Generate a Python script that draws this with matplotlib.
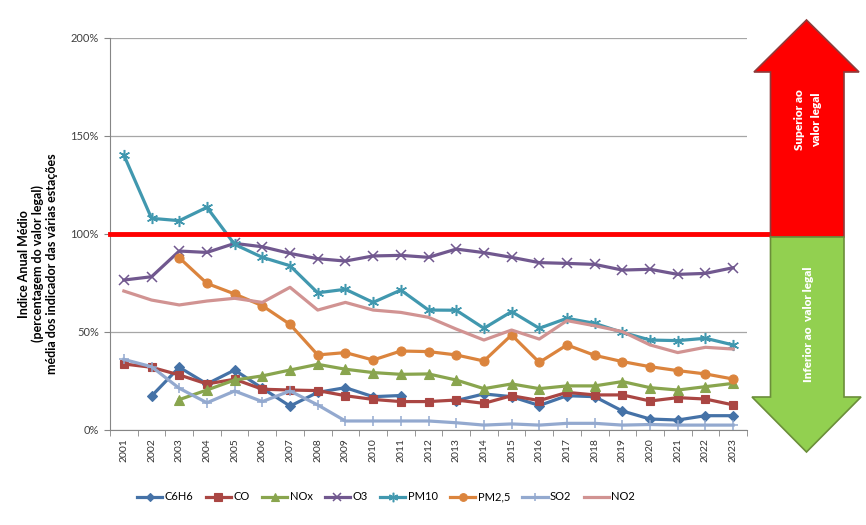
import matplotlib
matplotlib.use('Agg')
import matplotlib.pyplot as plt  # NOQA
from matplotlib.patches import Polygon  # NOQA
import numpy as np  # NOQA

nan = np.nan

years = [str(y) for y in range(2001, 2024)]

c6h6 = [nan, 17.3, 32, 23.5, 30.6, 21.3, 12.2, 19.2, 21.6, 17, 17.6, nan,
        15.0, 18.4, 17, 12.5, 17.5, 17, 9.7, 5.6, 5.1, 7.3, 7.3]
co = [33.7, 32, 28.1, 23.5, 25.9, 20.8, 20.4, 20.1, 17.5, 15.6, 14.5, 14.5,
      15.3, 13.6, 17.5, 15, 19.2, 17.9, 17.9, 14.8, 16.5, 15.8, 12.8]
nox = [nan, nan, 15.5, 20.4, 25.5, 27.6, 30.6, 33.5, 31, 29.3, 28.4, 28.6,
       25.5, 21.1, 23.5, 21.1, 22.5, 22.5, 24.7, 21.6, 20.4, 22.1, 23.8]
o3 = [76.5, 78.2, 91.3, 90.6, 95.2, 93.5, 90.1, 87.4, 86.2, 88.8, 89.1, 88.1,
      92.3, 90.5, 88.1, 85.4, 85, 84.5, 81.6, 82, 79.4, 79.9, 82.8]
pm10 = [140.3, 108, 106.8, 113.6, 94.7, 88.1, 83.8, 70, 71.8, 65.1, 71.4, 61.2,
        61.1, 51.9, 60.4, 51.9, 57, 54.4, 49.8, 45.9, 45.6, 46.8, 43.4]
pm25 = [nan, nan, 87.9, 74.8, 69.4, 63.4, 53.9, 38.3, 39.5, 35.7, 40.3, 40,
        38.3, 35.2, 48.5, 34.5, 43.4, 38.1, 34.9, 32.3, 30.3, 28.6, 26]
so2 = [36, 32.3, 21.3, 13.9, 19.9, 14.5, 19.9, 12.8, 4.6, 4.6, 4.6, 4.6,
       3.7, 2.5, 3.1, 2.5, 3.4, 3.4, 2.5, 2.8, 2.5, 2.5, 2.5]
no2 = [70.9, 66.3, 63.8, 65.8, 67.2, 65.1, 72.8, 61.2, 65.1, 61.2, 60, 57.5,
       51.5, 45.9, 51, 46.4, 55.8, 53.2, 50.2, 43.4, 39.5, 42.2, 41.3]

# nome, valores, cor, marcador, tamanho, espessura do marcador
series = [
    ('C6H6', c6h6, '#4572A7', 'D', 5, 0.8),
    ('CO', co, '#AA4643', 's', 6, 0.8),
    ('NOx', nox, '#89A54E', '^', 6.5, 0.8),
    ('O3', o3, '#71588F', 'x', 7, 1.1),
    ('PM10', pm10, '#4198AF', (6, 2, 0), 8, 1.1),
    ('PM2,5', pm25, '#DB843D', 'o', 6.5, 0.8),
    ('SO2', so2, '#93A9CF', '+', 7, 1.1),
    ('NO2', no2, '#D19392', None, 0, 0),
]

plt.rcParams['font.family'] = ['Lato', 'DejaVu Sans']

W, H = 866, 525
fig = plt.figure(figsize=(W / 100, H / 100), dpi=100)
ax = fig.add_axes([110 / W, 1 - 430 / H, 637 / W, 392 / H])

x = np.arange(len(years))
for name, vals, col, mk, ms, mew in series:
    ax.plot(x, vals, color=col, lw=2.3, marker=mk, markersize=ms,
            markeredgewidth=mew, label=name, zorder=3)

ax.set_xlim(-0.5, len(years) - 0.5)
ax.set_ylim(0, 200)
ax.set_yticks([0, 50, 100, 150, 200])
ax.set_yticklabels(['0%', '50%', '100%', '150%', '200%'])
ax.yaxis.grid(True, color='#A6A6A6', lw=0.9)
ax.set_axisbelow(True)
ax.set_xticks(x)
ax.set_xticklabels(years, rotation=90)
ax.set_xticks(np.arange(-0.5, len(years)), minor=True)
ax.tick_params(axis='x', which='major', length=0, pad=6, labelsize=7.5,
               labelcolor='#333333')
ax.tick_params(axis='x', which='minor', length=4, color='#868686')
ax.tick_params(axis='y', length=4, color='#868686', labelsize=8,
               labelcolor='#404040', pad=4)
for s in ('top', 'right'):
    ax.spines[s].set_visible(False)
for s in ('left', 'bottom'):
    ax.spines[s].set_color('#868686')

# limite legal
ax.axhline(100, xmin=0, xmax=(772 - 110) / 637, color='#FF0000', lw=3.5,
           clip_on=False, zorder=4)

fig.text(38 / W, 1 - 264 / H,
         'Indice Anual Médio\n(percentagem do valor legal)\n'
         'média dos indicador das várias estações',
         rotation=90, ha='center', va='center', fontsize=9,
         fontweight='bold', linespacing=1.15)


# setas
def fig_pts(pts):
    return [(px / W, 1 - py / H) for px, py in pts]


up = [(806.5, 20), (859, 72), (844, 72), (844, 237), (770.5, 237),
      (770.5, 72), (754, 72)]
down = [(770.5, 237), (844, 237), (844, 397), (861, 397), (806.5, 452),
        (752, 397), (770.5, 397)]
fig.patches.append(Polygon(fig_pts(up), closed=True, transform=fig.transFigure,
                           fc='#FF0000', ec='#8E3B3B', lw=1.2, zorder=5))
fig.patches.append(Polygon(fig_pts(down), closed=True,
                           transform=fig.transFigure,
                           fc='#92D050', ec='#6B8E3A', lw=1.2, zorder=5))
fig.text(808 / W, 1 - 120 / H, 'Superior ao\nvalor legal', rotation=90,
         ha='center', va='center', color='white', fontsize=8.5,
         fontweight='heavy', linespacing=1.6, zorder=6)
fig.text(808 / W, 1 - 324 / H, 'Inferior ao  valor legal', rotation=90,
         ha='center', va='center', color='white', fontsize=8.5,
         fontweight='heavy', zorder=6)

fig.legend(loc='center', bbox_to_anchor=(386 / W, 1 - 497 / H), ncol=8,
           frameon=False, fontsize=8, handlelength=2.3, handletextpad=0.2,
           columnspacing=1.1, markerscale=0.85)

fig.savefig('out.png', dpi=100)
